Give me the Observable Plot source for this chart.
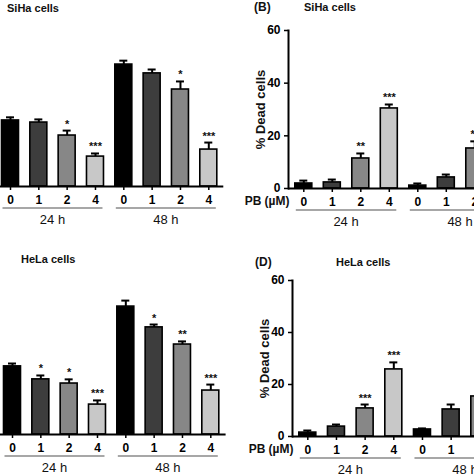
<!DOCTYPE html>
<html><head><meta charset="utf-8">
<script src="https://cdn.jsdelivr.net/npm/d3@7"></script>
<script src="https://cdn.jsdelivr.net/npm/@observablehq/plot@0.6"></script>
<style>
html,body{margin:0;padding:0;background:#fff;}
#fig{position:relative;width:474px;height:474px;overflow:hidden;background:#fff;font-family:"Liberation Sans",Arial,sans-serif;}
.p{position:absolute;}
.p svg{max-width:none !important;display:block;}
.t{position:absolute;font-weight:bold;font-size:11px;white-space:nowrap;line-height:1;color:#111;}
</style></head><body><div id="fig"></div>
<script>
// ---- data ----
const concentrations = ["0", "1", "2", "4"];
const times = ["24 h", "48 h"];
const barFills = ["#000000", "#3d3d3d", "#878787", "#c8c8c8"];
const yTicks = [0, 20, 40, 60];
const xAxisTitle = "PB (\u00b5M)";
const deadAxisTitle = "% Dead cells";

// Panel A: SiHa cells (growth), 24 h then 48 h, PB 0/1/2/4 uM
const sihaGrowth = [25.4, 24.6, 19.6, 11.5, 46.9, 43.5, 37.3, 14.2];
const sihaGrowthErr = [1.2, 1.2, 1.9, 1.2, 1.5, 1.5, 3.1, 2.7];
const sihaGrowthStars = ["", "", "*", "***", "", "", "*", "***"];

// Panel B: SiHa cells, % dead cells
const sihaDead = [1.9, 2.3, 11.4, 30.4, 1.1, 4.2, 15.2, 36.0];
const sihaDeadErr = [1.1, 1.1, 1.9, 1.5, 0.8, 1.1, 2.7, 2.0];
const sihaDeadStars = ["", "", "**", "***", "", "", "**", "***"];

// Panel C: HeLa cells (growth)
const helaGrowth = [26.2, 21.2, 19.6, 11.5, 49.2, 41.2, 34.6, 16.9];
const helaGrowthErr = [1.1, 1.5, 1.6, 1.6, 2.3, 1.1, 1.2, 2.3];
const helaGrowthStars = ["", "*", "*", "***", "", "*", "**", "***"];

// Panel D: HeLa cells, % dead cells
const helaDead = [1.5, 3.8, 10.8, 25.8, 2.7, 10.4, 15.4, 30.0];
const helaDeadErr = [0.8, 0.8, 1.5, 2.7, 0.4, 1.9, 1.5, 2.5];
const helaDeadStars = ["", "", "***", "***", "", "", "*", "***"];

// ---- drawing ----
const fig = document.getElementById("fig");

function panel(o) {
  const keys = [];
  times.forEach(t => concentrations.forEach(c => keys.push(t + "|" + c)));
  const rows = keys.map((k, i) => ({
    key: k, conc: k.split("|")[1],
    value: o.values[i], top: o.values[i] + o.errors[i], stars: o.stars[i]
  }));
  const n = keys.length;
  const sw = 1.6;
  const pin = 1 - o.bw / o.step;
  const pout = (o.firstLeft + sw / 2 - o.axisX) / o.step;
  const W = o.step * (n - pin + 2 * pout);
  const ml = o.axisX - o.left;
  const mt = o.topY - o.top;
  const mb = o.top + 237 - o.baseY;
  const height = 237;
  const width = ml + W + 10;

  const marks = [
    Plot.ruleX(rows, {x: "key", y1: "value", y2: "top", strokeWidth: 2, stroke: "#000"}),
    Plot.tickY(rows, {x: "key", y: "top", strokeWidth: 2, stroke: "#000", inset: (o.bw - 8) / 2}),
    Plot.barY(rows, {x: "key", y: "value", fill: "conc", stroke: "#000", strokeWidth: sw}),
    Plot.text(rows, {x: "key", y: "top", text: "stars", lineAnchor: "bottom", dy: -3, fontSize: 11, fontWeight: "bold", fill: "#111"}),
    Plot.axisX({tickFormat: k => k.split("|")[1], tickSize: 4, tickPadding: 5, fontSize: 12, fontWeight: "bold", strokeWidth: 1.5, label: null}),
    Plot.ruleY([0], {strokeWidth: 2, stroke: "#000"})
  ];
  if (o.showY) {
    marks.push(
      Plot.axisY({ticks: yTicks, tickSize: 4, tickPadding: 4, fontSize: 12, fontWeight: "bold", strokeWidth: 1.5, label: null}),
      Plot.frame({anchor: "left", strokeWidth: 2, stroke: "#000"}),
      Plot.text([deadAxisTitle], {frameAnchor: "left", textAnchor: "middle", rotate: -90, dx: -28, fontSize: 13, fontWeight: "bold", fill: "#111"}),
      Plot.text([xAxisTitle], {frameAnchor: "bottom-left", textAnchor: "end", lineAnchor: "middle", dx: 1, dy: 13, fontSize: 12, fontWeight: "bold", fill: "#111"})
    );
  }

  const chart = Plot.plot({
    width, height,
    marginLeft: ml, marginRight: 10, marginTop: mt, marginBottom: mb,
    style: {fontFamily: "'Liberation Sans', Arial, sans-serif", background: "transparent", overflow: "visible"},
    x: {domain: keys, type: "band", paddingInner: pin, paddingOuter: pout, align: 0.5, round: false, axis: null},
    y: {domain: [0, 60], axis: null},
    color: {domain: concentrations, range: barFills},
    marks
  });

  // group underlines + time labels using the plot's own x scale
  const sx = chart.scale("x");
  const sy = chart.scale("y");
  const base = sy.apply(0);
  const g = d3.select(chart).append("g");
  times.forEach(t => {
    const a = sx.apply(t + "|" + concentrations[0]) + 1;
    const b = sx.apply(t + "|" + concentrations[concentrations.length - 1]) + sx.bandwidth - 1;
    g.append("line").attr("x1", a).attr("x2", b).attr("y1", base + 22).attr("y2", base + 22)
      .attr("stroke", "#8a8a8a").attr("stroke-width", 1.5);
    g.append("text").attr("x", (a + b) / 2).attr("y", base + 33).attr("dy", "0.35em")
      .attr("text-anchor", "middle").attr("font-size", 13).attr("font-weight", "normal")
      .attr("fill", "#111").text(t);
  });

  const div = document.createElement("div");
  div.className = "p";
  div.style.left = o.left + "px";
  div.style.top = o.top + "px";
  div.style.width = width + "px";
  div.appendChild(chart);
  fig.appendChild(div);
}

panel({left: -56, top: 0, axisX: -5, firstLeft: 0.7, step: 28.33, bw: 17, topY: 30, baseY: 186,
  values: sihaGrowth, errors: sihaGrowthErr, stars: sihaGrowthStars, showY: false});
panel({left: 237, top: 0, axisX: 288, firstLeft: 294, step: 28.5, bw: 17, topY: 30, baseY: 188,
  values: sihaDead, errors: sihaDeadErr, stars: sihaDeadStars, showY: true});
panel({left: -56, top: 237, axisX: -3.3, firstLeft: 2.7, step: 28.33, bw: 17, topY: 278, baseY: 434,
  values: helaGrowth, errors: helaGrowthErr, stars: helaGrowthStars, showY: false});
panel({left: 237, top: 237, axisX: 292, firstLeft: 298, step: 28.67, bw: 17, topY: 280, baseY: 436,
  values: helaDead, errors: helaDeadErr, stars: helaDeadStars, showY: true});

function title(text, left, top, size) {
  const d = document.createElement("div");
  d.className = "t";
  d.style.left = left + "px";
  d.style.top = top + "px";
  if (size) d.style.fontSize = size + "px";
  d.textContent = text;
  fig.appendChild(d);
}
title("SiHa cells", 7, 3);
title("(B)", 254, 1, 12);
title("SiHa cells", 304, 1.6);
title("HeLa cells", 21, 253.6);
title("(D)", 255, 256, 12);
title("HeLa cells", 336, 256.6);
</script></body></html>
